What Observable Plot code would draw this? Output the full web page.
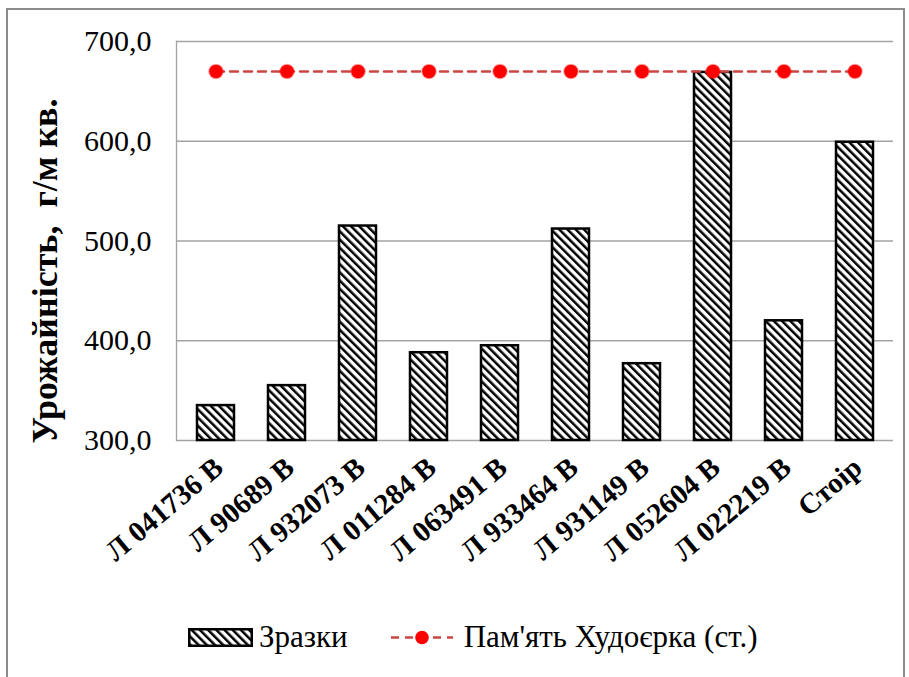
<!DOCTYPE html>
<html>
<head>
<meta charset="utf-8">
<script src="https://cdn.jsdelivr.net/npm/d3@7"></script>
<script src="https://cdn.jsdelivr.net/npm/@observablehq/plot@0.6"></script>
<style>
  html, body { margin: 0; padding: 0; background: #fff; }
  body { width: 909px; height: 677px; position: relative; overflow: hidden;
         font-family: "Liberation Serif", "Times New Roman", serif; }
  #frame { position: absolute; left: 6px; top: 8px; width: 899px; height: 720px;
           border: 2.5px solid #8c8c8c; box-sizing: border-box; }
  #chart { position: absolute; left: 0; top: 0; }
  #legend { position: absolute; top: 619px; left: 188px; display: flex; align-items: center;
            font-size: 31px; color: #000; white-space: nowrap; }
  #legend svg { display: block; }
</style>
</head>
<body>
<div id="frame"></div>
<div id="chart"></div>
<div id="legend"></div>
<script>
// Sample lines and their yield, g per square metre
const samples = ["Л 041736 В", "Л 90689 В", "Л 932073 В", "Л 011284 В", "Л 063491 В",
                 "Л 933464 В", "Л 931149 В", "Л 052604 В", "Л 022219 В", "Стоір"];
const yields = [335, 355, 515, 388, 395, 512, 377, 669, 420, 599];
// Standard variety (Пам'ять Худоєрка) shown as a reference line
const standard = [670, 670, 670, 670, 670, 670, 670, 670, 670, 670];
const yTicks = [300, 400, 500, 600, 700];
const seriesNames = ["Зразки", "Пам'ять Худоєрка (ст.)"];
const yTitle = "Урожайність,\u00a0\u00a0г/м кв.";

const serif = "'Liberation Serif', 'Times New Roman', serif";
const rows = samples.map((s, i) => ({sample: s, value: yields[i], std: standard[i]}));
const fmt = d => d.toFixed(1).replace(".", ",");

const chart = Plot.plot({
  width: 909,
  height: 580,
  marginTop: 41,
  marginLeft: 176,
  marginRight: 16,
  marginBottom: 140,
  style: {fontFamily: serif, color: "#000", background: "transparent", overflow: "visible"},
  x: {domain: samples, paddingInner: 0.48, paddingOuter: 0.24, axis: null},
  y: {domain: [yTicks[0], yTicks[yTicks.length - 1]], axis: null},
  marks: [
    Plot.ruleY(yTicks, {stroke: "#a3a3a3", strokeWidth: 1.3}),
    Plot.frame({anchor: "left", stroke: "#a3a3a3", strokeWidth: 1.3}),
    Plot.barY(rows, {x: "sample", y1: yTicks[0], y2: "value",
      fill: "url(#hatch)", stroke: "#000", strokeWidth: 2.5}),
    Plot.lineY(rows, {x: "sample", y: "std", stroke: "#cc4646", strokeWidth: 2.5, strokeDasharray: "8,6"}),
    Plot.dot(rows, {x: "sample", y: "std", r: 6.8, fill: "#ff0000", stroke: "rgba(255,0,0,0.35)", strokeWidth: 2}),
    Plot.axisY(yTicks, {tickSize: 0, tickPadding: 25, tickFormat: fmt, fontSize: 30, fontFamily: serif, label: null}),
    Plot.axisX({tickSize: 0, tickPadding: 0, tickRotate: -40, textAnchor: "end", lineAnchor: "middle",
      dx: 3, dy: 23, fontSize: 29, fontWeight: "bold", fontFamily: serif, label: null}),
    Plot.text([yTitle], {frameAnchor: "left", dx: -131, dy: 30, rotate: -90, fontFamily: serif,
      fontSize: 36, fontWeight: "bold", textAnchor: "middle", lineAnchor: "middle"})
  ]
});

// Diagonal hatch used as the bar fill
function addHatch(svg, id) {
  const defs = d3.select(svg).insert("defs", ":first-child");
  const p = defs.append("pattern")
    .attr("id", id)
    .attr("patternUnits", "userSpaceOnUse")
    .attr("width", 5.8).attr("height", 5.8)
    .attr("patternTransform", "rotate(-45)");
  p.append("rect").attr("width", 5.8).attr("height", 5.8).attr("fill", "#fff");
  p.append("rect").attr("width", 2.5).attr("height", 5.8).attr("fill", "#000");
}
addHatch(chart, "hatch");
document.getElementById("chart").appendChild(chart);

// Legend below the chart
const legend = d3.select("#legend");
const sw = legend.append("svg").attr("width", 65).attr("height", 19);
addHatch(sw.node(), "hatch-legend");
sw.append("rect").attr("x", 1.25).attr("y", 1.25).attr("width", 62.5).attr("height", 16.5)
  .attr("fill", "url(#hatch-legend)").attr("stroke", "#000").attr("stroke-width", 2.5);
legend.append("span").style("margin-left", "6px").text(seriesNames[0]);
const ln = legend.append("svg").attr("width", 62).attr("height", 19).style("margin-left", "43px");
ln.append("line").attr("x1", 0).attr("x2", 62).attr("y1", 9.5).attr("y2", 9.5)
  .attr("stroke", "#cc4646").attr("stroke-width", 2.5).attr("stroke-dasharray", "8,6");
ln.append("circle").attr("cx", 31).attr("cy", 9.5).attr("r", 6.8).attr("fill", "#ff0000");
legend.append("span").style("margin-left", "11px").text(seriesNames[1]);
</script>
</body>
</html>
